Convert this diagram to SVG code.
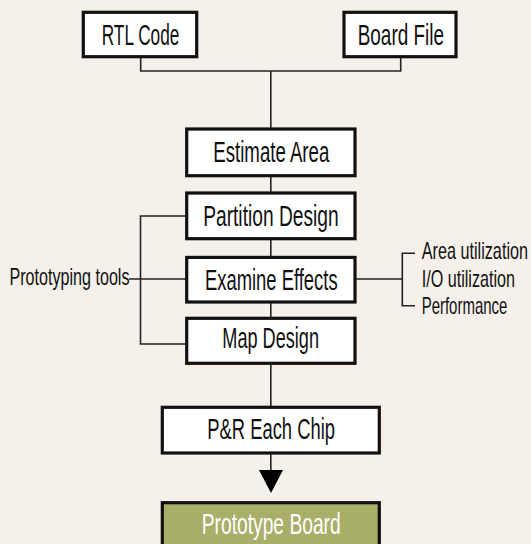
<svg xmlns="http://www.w3.org/2000/svg" width="531" height="544" viewBox="0 0 531 544">
<defs>
<style>
.box{fill:#ffffff;stroke:#111111;stroke-width:3.2}
.green{fill:#a9ae69;stroke:#111111;stroke-width:3.2}
.t{font-family:"Liberation Sans",Arial,sans-serif;font-size:29px;fill:#111111}
.tw{font-family:"Liberation Sans",Arial,sans-serif;font-size:29px;fill:#ffffff}
.s{font-family:"Liberation Sans",Arial,sans-serif;font-size:23px;fill:#111111}
.c{fill:none;stroke:#222222;stroke-width:1.6}
</style>
</defs>
<rect width="531" height="544" fill="#f5f0ea"/>
<g id="connectors">
<path class="c" d="M140.7,57 V71 H400.7 V57 M270.8,71 V129"/>
<path class="c" d="M270.8,176 V193 M270.8,238 V257 M270.8,302 V318 M270.8,363 V407"/>
<path class="c" d="M270.8,453 V470"/>
<path d="M259,470 L283,470 L271,493 Z" fill="#000000"/>
<path class="c" d="M186.7,216 H140.5 V344 H186.7 M129,279 H186.7"/>
<path class="c" d="M355,279 H402.3 M415,253.3 H402.3 V305.7 H415"/>
</g>
<g id="rtl-code">
<rect class="box" x="83.3" y="12.3" width="113.4" height="44.4"/>
<text class="t" transform="translate(101.7,45) scale(0.7,1)" textLength="111" lengthAdjust="spacingAndGlyphs">RTL Code</text>
</g>
<g id="board-file">
<rect class="box" x="344" y="12.3" width="112" height="44.4"/>
<text class="t" transform="translate(357.7,45) scale(0.7,1)" textLength="123.3" lengthAdjust="spacingAndGlyphs">Board File</text>
</g>
<g id="estimate-area">
<rect class="box" x="186.7" y="129" width="168.3" height="46.7"/>
<text class="t" transform="translate(213.3,161.7) scale(0.7,1)" textLength="165.7" lengthAdjust="spacingAndGlyphs">Estimate Area</text>
</g>
<g id="partition-design">
<rect class="box" x="186.7" y="193" width="168.3" height="45.7"/>
<text class="t" transform="translate(203.2,225.9) scale(0.7,1)" textLength="193.4" lengthAdjust="spacingAndGlyphs">Partition Design</text>
</g>
<g id="examine-effects">
<rect class="box" x="186.7" y="257.4" width="168.3" height="44.6"/>
<text class="t" transform="translate(204.9,290) scale(0.7,1)" textLength="189.6" lengthAdjust="spacingAndGlyphs">Examine Effects</text>
</g>
<g id="map-design">
<rect class="box" x="186.7" y="318.3" width="168.3" height="45"/>
<text class="t" transform="translate(222.3,348.3) scale(0.7,1)" textLength="138.1" lengthAdjust="spacingAndGlyphs">Map Design</text>
</g>
<g id="pr-each-chip">
<rect class="box" x="162.3" y="407.3" width="217" height="45.7"/>
<text class="t" transform="translate(207.3,439) scale(0.7,1)" textLength="182.4" lengthAdjust="spacingAndGlyphs">P&amp;R Each Chip</text>
</g>
<g id="prototype-board">
<rect class="green" x="162.3" y="502.7" width="217" height="50"/>
<text class="tw" transform="translate(201.7,534.3) scale(0.7,1)" textLength="198.6" lengthAdjust="spacingAndGlyphs">Prototype Board</text>
</g>
<g id="prototyping-tools">
<text class="s" transform="translate(9.5,285) scale(0.7,1)" textLength="171.4" lengthAdjust="spacingAndGlyphs">Prototyping tools</text>
</g>
<g id="effects-list">
<text class="s" transform="translate(421.7,259.3) scale(0.7,1)" textLength="151.9" lengthAdjust="spacingAndGlyphs">Area utilization</text>
<text class="s" transform="translate(421.7,286.7) scale(0.7,1)" textLength="133.3" lengthAdjust="spacingAndGlyphs">I/O utilization</text>
<text class="s" transform="translate(421.7,314) scale(0.7,1)" textLength="122.3" lengthAdjust="spacingAndGlyphs">Performance</text>
</g>
</svg>
